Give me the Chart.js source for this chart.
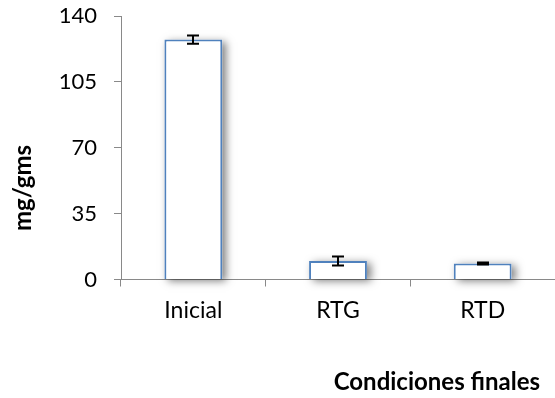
<!DOCTYPE html>
<html>
<head>
<meta charset="utf-8">
<script src="https://cdn.jsdelivr.net/npm/chart.js@4.4.1/dist/chart.umd.min.js"></script>
<style>
  html, body { margin: 0; padding: 0; background: #ffffff; }
  #wrap { width: 555px; height: 398px; position: relative; }
</style>
</head>
<body>
<div id="wrap"><canvas id="c" width="555" height="398"></canvas></div>
<script>
// Contenido de la muestra por condición
const categories = ['Inicial', 'RTG', 'RTD'];
const values = [127.5, 9.8, 8.5];
const errors = [2.2, 2.4, 0.5];
const yTicks = [0, 35, 70, 105, 140];
const yTitle = 'mg/gms';
const xTitle = 'Condiciones finales';

const FONT = 'Lato, "Liberation Sans", sans-serif';
const AXIS_GRAY = '#898989';

// Sombra gris detrás de cada barra
const barShadow = {
  id: 'barShadow',
  beforeDatasetsDraw(chart) {
    const ctx = chart.ctx;
    const meta = chart.getDatasetMeta(0);
    ctx.save();
    meta.data.forEach(bar => {
      const p = bar.getProps(['x', 'y', 'base', 'width'], true);
      ctx.shadowColor = 'rgba(0,0,0,0.5)';
      ctx.shadowBlur = 8;
      ctx.shadowOffsetX = 4;
      ctx.shadowOffsetY = 2;
      ctx.fillStyle = '#ffffff';
      ctx.fillRect(p.x - p.width / 2, p.y, p.width, p.base - p.y);
    });
    ctx.restore();
  }
};

// Barras de error (± desviación)
const errorBars = {
  id: 'errorBars',
  afterDatasetsDraw(chart) {
    const ctx = chart.ctx;
    const y = chart.scales.y;
    const meta = chart.getDatasetMeta(0);
    ctx.save();
    ctx.strokeStyle = '#000000';
    ctx.lineWidth = 2;
    meta.data.forEach((bar, i) => {
      const cx = Math.round(bar.x);
      const top = y.getPixelForValue(values[i] + errors[i]);
      const bot = y.getPixelForValue(values[i] - errors[i]);
      const cap = 6;
      ctx.beginPath();
      ctx.moveTo(cx, top); ctx.lineTo(cx, bot);
      ctx.moveTo(cx - cap, top); ctx.lineTo(cx + cap, top);
      ctx.moveTo(cx - cap, bot); ctx.lineTo(cx + cap, bot);
      ctx.stroke();
    });
    ctx.restore();
  }
};

// Títulos de los ejes
const axisTitles = {
  id: 'axisTitles',
  afterDraw(chart) {
    const ctx = chart.ctx;
    ctx.save();
    ctx.fillStyle = '#000000';
    ctx.font = 'bold 24px ' + FONT;
    ctx.textAlign = 'right';
    ctx.textBaseline = 'middle';
    ctx.fillText(xTitle, 540, 382);
    ctx.translate(23, 188);
    ctx.rotate(-Math.PI / 2);
    ctx.textAlign = 'center';
    ctx.fillText(yTitle, 0, 0);
    ctx.restore();
  }
};

new Chart(document.getElementById('c'), {
  type: 'bar',
  data: {
    labels: categories,
    datasets: [{
      data: values,
      backgroundColor: '#ffffff',
      borderColor: '#4f81bd',
      borderWidth: 2,
      barPercentage: 0.4,
      categoryPercentage: 1.0
    }]
  },
  options: {
    responsive: false,
    animation: false,
    devicePixelRatio: 1,
    layout: { padding: { left: 0, right: 0, top: 16, bottom: 0 } },
    plugins: { legend: { display: false }, tooltip: { enabled: false } },
    scales: {
      x: {
        grid: { drawOnChartArea: false, drawTicks: true, tickLength: 7, color: AXIS_GRAY, offset: true },
        border: { color: AXIS_GRAY, width: 1 },
        ticks: { color: '#000000', font: { family: FONT, size: 23 }, padding: 10 },
        afterFit(scale) { scale.height = 118.5; scale.paddingLeft = 0; scale.paddingRight = 0; }
      },
      y: {
        min: 0,
        max: 140,
        afterBuildTicks(scale) { scale.ticks = yTicks.map(v => ({ value: v })); },
        grid: { drawOnChartArea: false, drawTicks: true, tickLength: 7, color: AXIS_GRAY },
        border: { color: AXIS_GRAY, width: 1 },
        ticks: { color: '#000000', font: { family: FONT, size: 22 }, padding: 17 },
        afterFit(scale) { scale.width = 121; scale.paddingTop = 0; scale.paddingBottom = 0; }
      }
    }
  },
  plugins: [barShadow, errorBars, axisTitles]
});
</script>
</body>
</html>
